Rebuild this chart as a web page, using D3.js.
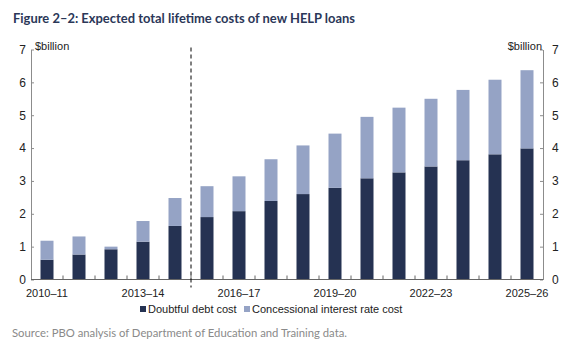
<!DOCTYPE html>
<html>
<head>
<meta charset="utf-8">
<script src="https://cdn.jsdelivr.net/npm/d3@7"></script>
<style>
  body { margin: 0; background: #fff; }
</style>
</head>
<body>
<div id="chart"></div>
<script>
const years = ["2010–11", "2011–12", "2012–13", "2013–14", "2014–15", "2015–16", "2016–17", "2017–18",
               "2018–19", "2019–20", "2020–21", "2021–22", "2022–23", "2023–24", "2024–25", "2025–26"];
const doubtful = [0.60, 0.76, 0.92, 1.15, 1.63, 1.90, 2.08, 2.39, 2.60, 2.79, 3.08, 3.26, 3.44, 3.63, 3.81, 3.99];
const concessional = [0.58, 0.55, 0.08, 0.63, 0.85, 0.94, 1.06, 1.27, 1.48, 1.65, 1.87, 1.97, 2.06, 2.14, 2.27, 2.38];
const tickLabels = ["2010–11", "2013–14", "2016–17", "2019–20", "2022–23", "2025–26"];
const yTicks = [0, 1, 2, 3, 4, 5, 6, 7];
const seriesNames = ["Doubtful debt cost", "Concessional interest rate cost"];
const colors = ["#253252", "#95a3c5"];

const W = 573, H = 351;
const plot = { left: 31, right: 543, top: 49.5, bottom: 279.5 };
const axisFont = "'Liberation Sans', Arial, sans-serif";

const svg = d3.select("#chart").append("svg")
  .attr("width", W).attr("height", H);

const x = d3.scaleBand().domain(years).range([plot.left, plot.right]);
const y = d3.scaleLinear().domain([0, 7]).range([plot.bottom, plot.top]);

// title
svg.append("text")
  .attr("x", 13).attr("y", 23)
  .attr("textLength", 342).attr("lengthAdjust", "spacingAndGlyphs")
  .style("font-family", "Lato, 'Open Sans', sans-serif")
  .style("font-weight", "bold").style("font-size", "14px")
  .style("fill", "#2b3758")
  .text("Figure 2–2: Expected total lifetime costs of new HELP loans");

// stacked bars
const stacked = years.map((yr, i) => ({ yr, d: doubtful[i], c: concessional[i] }));
const stack = d3.stack().keys(["d", "c"])(stacked);
const barW = 13;

svg.append("g").selectAll("g")
  .data(stack).enter().append("g")
  .attr("fill", (s, i) => colors[i])
  .selectAll("rect")
  .data(s => s).enter().append("rect")
  .attr("x", d => x(d.data.yr) + x.bandwidth() / 2 - barW / 2)
  .attr("width", barW)
  .attr("y", d => y(d[1]))
  .attr("height", d => y(d[0]) - y(d[1]));

// y axes, ticks point inward
const yLeft = d3.axisLeft(y).tickValues(yTicks).tickFormat(d3.format("d"))
  .tickSizeInner(-3).tickSizeOuter(0).tickPadding(5);
const yRight = d3.axisRight(y).tickValues(yTicks).tickFormat(d3.format("d"))
  .tickSizeInner(-3).tickSizeOuter(0).tickPadding(9);

const gl = svg.append("g").attr("transform", `translate(${plot.left},0)`).call(yLeft);
const gr = svg.append("g").attr("transform", `translate(${plot.right},0)`).call(yRight);
[gl, gr].forEach(g => {
  g.select(".domain").attr("stroke", "#8c8c8c");
  g.selectAll(".tick line").attr("stroke", "#8c8c8c");
  g.selectAll(".tick text")
    .style("font-family", axisFont).style("font-size", "12px").style("fill", "#222");
});

// x axis: tick marks at band boundaries pointing up
const xb = svg.append("g");
xb.append("line")
  .attr("x1", plot.left).attr("x2", plot.right).attr("y1", plot.bottom).attr("y2", plot.bottom)
  .attr("stroke", "#666");
xb.selectAll(".xt")
  .data(years.slice(1)).enter().append("line")
  .attr("x1", d => x(d)).attr("x2", d => x(d))
  .attr("y1", plot.bottom).attr("y2", plot.bottom - 4)
  .attr("stroke", "#666");
xb.selectAll(".xl")
  .data(tickLabels).enter().append("text")
  .attr("x", d => x(d) + x.bandwidth() / 2)
  .attr("y", plot.bottom + 17)
  .attr("text-anchor", "middle")
  .style("font-family", axisFont).style("font-size", "11px").style("fill", "#222")
  .text(d => d);

// dashed divider between 2014–15 and 2015–16
svg.append("line")
  .attr("x1", x("2015–16")).attr("x2", x("2015–16"))
  .attr("y1", plot.top - 2).attr("y2", plot.bottom + 8)
  .attr("stroke", "#000").attr("stroke-dasharray", "4,3");

// unit labels
svg.append("text").attr("x", plot.left + 4).attr("y", 50)
  .style("font-family", axisFont).style("font-size", "11px").style("fill", "#222").text("$billion");
svg.append("text").attr("x", plot.right - 1).attr("y", 50)
  .attr("text-anchor", "end")
  .style("font-family", axisFont).style("font-size", "11px").style("fill", "#222").text("$billion");

// legend
const leg = svg.append("g");
const legX = [140, 244];
seriesNames.forEach((n, i) => {
  leg.append("rect").attr("x", legX[i]).attr("y", 306).attr("width", 6).attr("height", 6).attr("fill", colors[i]);
  leg.append("text").attr("x", legX[i] + 8).attr("y", 313)
    .style("font-family", axisFont).style("font-size", "11px").style("fill", "#222").text(n);
});

// source
svg.append("text")
  .attr("x", 12).attr("y", 337)
  .attr("textLength", 335).attr("lengthAdjust", "spacingAndGlyphs")
  .style("font-family", "Lato, 'Open Sans', sans-serif")
  .style("font-size", "12px").style("fill", "#8a8a8a")
  .text("Source: PBO analysis of Department of Education and Training data.");
</script>
</body>
</html>
